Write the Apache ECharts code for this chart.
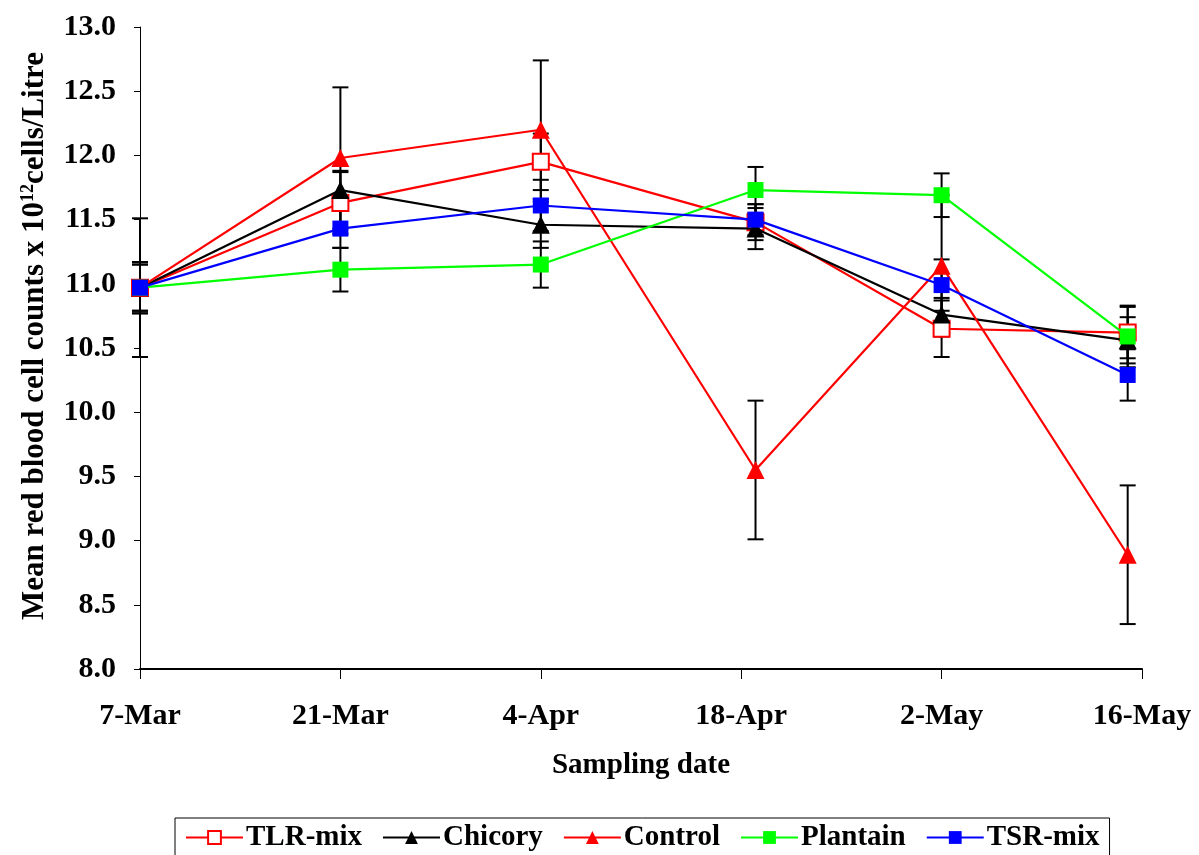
<!DOCTYPE html>
<html>
<head>
<meta charset="utf-8">
<script src="https://cdn.jsdelivr.net/npm/echarts@6/dist/echarts.min.js"></script>
<style>
html,body{margin:0;padding:0;background:#fff;}
#chart{width:1199px;height:855px;}
</style>
</head>
<body>
<div id="chart"></div>
<script>
// Tick labels for the date axis (every 14 days from 7-Mar)
var tickLabels = ['7-Mar', '21-Mar', '4-Apr', '18-Apr', '2-May', '16-May'];
// Sampling day offsets (days after 7-Mar)
var sampleDays = [0, 14, 28, 43, 56, 69];

var seriesNames = ['TLR-mix', 'Chicory', 'Control', 'Plantain', 'TSR-mix'];

var tlrMix   = [10.97, 11.63, 11.95, 11.48, 10.65, 10.62];
var chicory  = [10.97, 11.73, 11.46, 11.43, 10.76, 10.56];
var control  = [10.97, 11.98, 12.20, 9.55, 11.14, 8.89];
var plantain = [10.97, 11.11, 11.15, 11.73, 11.69, 10.59];
var tsrMix   = [10.97, 11.43, 11.61, 11.50, 10.99, 10.29];

var tlrErr      = [0.20, 0.24, 0.22, 0.14, 0.22, 0.20];
var chicoryErr  = [0.18, 0.15, 0.18, 0.16, 0.13, 0.18];
var controlErr  = [0.54, 0.55, 0.54, 0.54, 0.55, 0.54];
var plantainErr = [0.18, 0.17, 0.18, 0.18, 0.17, 0.24];
var tsrErr      = [0.20, 0.15, 0.20, 0.12, 0.20, 0.20];

var FONT = '"Liberation Serif", "Times New Roman", serif';

var groups = [
  {name: 'TLR-mix', vals: tlrMix, err: tlrErr, color: '#ff0000', symbol: 'emptyRect'},
  {name: 'Chicory', vals: chicory, err: chicoryErr, color: '#000000', symbol: 'triangle'},
  {name: 'Control', vals: control, err: controlErr, color: '#ff0000', symbol: 'triangle'},
  {name: 'Plantain', vals: plantain, err: plantainErr, color: '#00ff00', symbol: 'rect'},
  {name: 'TSR-mix', vals: tsrMix, err: tsrErr, color: '#0000ff', symbol: 'rect'}
];

function errRender(params, api) {
  var x = api.value(0), lo = api.value(1), hi = api.value(2);
  var pLo = api.coord([x, lo]);
  var pHi = api.coord([x, hi]);
  var w = 8;
  var st = {stroke: '#000', lineWidth: 2};
  return {
    type: 'group',
    children: [
      {type: 'line', shape: {x1: pLo[0], y1: pLo[1], x2: pHi[0], y2: pHi[1]}, style: st},
      {type: 'line', shape: {x1: pLo[0] - w, y1: pLo[1], x2: pLo[0] + w, y2: pLo[1]}, style: st},
      {type: 'line', shape: {x1: pHi[0] - w, y1: pHi[1], x2: pHi[0] + w, y2: pHi[1]}, style: st}
    ]
  };
}

var series = [];
groups.forEach(function (g) {
  series.push({
    name: g.name + ' err',
    type: 'custom',
    renderItem: errRender,
    data: sampleDays.map(function (d, i) { return [d, g.vals[i] - g.err[i], g.vals[i] + g.err[i]]; }),
    z: 1,
    silent: true,
    encode: {x: 0, y: [1, 2]}
  });
});
groups.forEach(function (g, k) {
  series.push({
    name: g.name,
    type: 'line',
    data: sampleDays.map(function (d, i) { return [d, g.vals[i]]; }),
    symbol: g.symbol,
    symbolSize: g.symbol === 'triangle' ? 18 : 16,
    showAllSymbol: true,
    lineStyle: {color: g.color, width: 2.2},
    itemStyle: {color: g.color, borderColor: g.color, borderWidth: g.symbol === 'emptyRect' ? 2 : 0},
    z: 2 + k,
    animation: false
  });
});

var chart = echarts.init(document.getElementById('chart'), null, {renderer: 'canvas'});
chart.setOption({
  animation: false,
  backgroundColor: '#fff',
  grid: {left: 140, right: 57, top: 27, bottom: 186, containLabel: false},
  xAxis: {
    type: 'value',
    min: 0, max: 70, interval: 14,
    splitLine: {show: false},
    axisLine: {lineStyle: {color: '#000', width: 2}},
    axisTick: {show: true, length: 10, lineStyle: {color: '#000', width: 1}},
    axisLabel: {
      margin: 32,
      color: '#000',
      fontFamily: FONT, fontWeight: 'bold', fontSize: 30,
      formatter: function (v) { return tickLabels[Math.round(v / 14)] || ''; }
    },
    name: 'Sampling date',
    nameLocation: 'middle',
    nameGap: 82,
    nameTextStyle: {color: '#000', fontFamily: FONT, fontWeight: 'bold', fontSize: 29}
  },
  yAxis: {
    type: 'value',
    min: 8, max: 13, interval: 0.5,
    splitLine: {show: false},
    axisLine: {show: true, lineStyle: {color: '#000', width: 1}},
    axisTick: {show: true, length: 6, lineStyle: {color: '#000', width: 1}},
    axisLabel: {
      margin: 24,
      color: '#000',
      fontFamily: FONT, fontWeight: 'bold', fontSize: 30,
      formatter: function (v) { return v.toFixed(1); }
    },
    name: 'Mean red blood cell counts x 10{sup|12}cells/Litre',
    nameLocation: 'middle',
    nameRotate: 90,
    nameGap: 90,
    nameTextStyle: {
      color: '#000', fontFamily: FONT, fontWeight: 'bold', fontSize: 31,
      padding: [0, 0, 0, 24],
      rich: {
        sup: {color: '#000', fontFamily: FONT, fontWeight: 'bold', fontSize: 18, verticalAlign: 'bottom', padding: [0, 0, 13, 0]}
      }
    }
  },
  legend: {
    data: seriesNames,
    left: 175,
    top: 818,
    orient: 'horizontal',
    padding: [5, 10, 6, 10],
    itemGap: 20,
    itemWidth: 57,
    itemHeight: 16,
    borderColor: '#000',
    borderWidth: 1,
    textStyle: {color: '#000', fontFamily: FONT, fontWeight: 'bold', fontSize: 29, padding: [0, 0, 0, -2]}
  },
  series: series
});
</script>
</body>
</html>
